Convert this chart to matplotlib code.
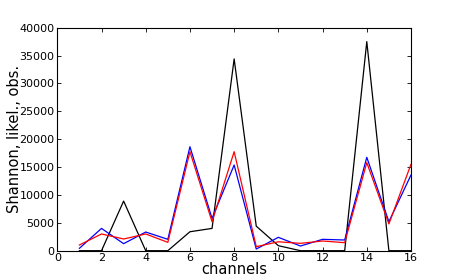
import matplotlib
matplotlib.use("Agg")
import matplotlib.pyplot as plt
import numpy as np

channels = np.arange(1, 17)
black = [0, 0, 8900, 0, 0, 3400, 4000, 34400, 4400, 900, 0, 0, 0, 37500, 0, 0]
blue = [430, 4000, 1260, 3350, 2040, 18650, 5800, 15370, 300, 2400, 840, 2040, 1920, 16750, 5200, 13580]
red = [1020, 3000, 2100, 3000, 1500, 17760, 5200, 17760, 720, 1600, 1320, 1740, 1440, 15800, 4800, 15500]

fig = plt.figure(figsize=(4.57, 2.79), dpi=100)
ax = fig.add_axes([57.3 / 457, 1 - 250.7 / 279, (411 - 57.3) / 457, (250.7 - 27.7) / 279])

ax.plot(channels, black, 'k-', lw=0.9)
ax.plot(channels, blue, 'b-', lw=0.9)
ax.plot(channels, red, 'r-', lw=0.9)

ax.set_xlim(0, 16)
ax.set_ylim(0, 40000)
ax.set_xticks(range(0, 17, 2))
ax.set_yticks(range(0, 40001, 5000))
ax.tick_params(direction='in', top=True, right=True, labelsize=8, length=3, width=0.6, pad=2)
for s in ax.spines.values():
    s.set_linewidth(0.8)

ax.set_xlabel('channels', fontsize=10.5, labelpad=-1)
ax.set_ylabel('Shannon, likel., obs.', fontsize=10.5, labelpad=-2)

fig.savefig('out.png', dpi=100)
